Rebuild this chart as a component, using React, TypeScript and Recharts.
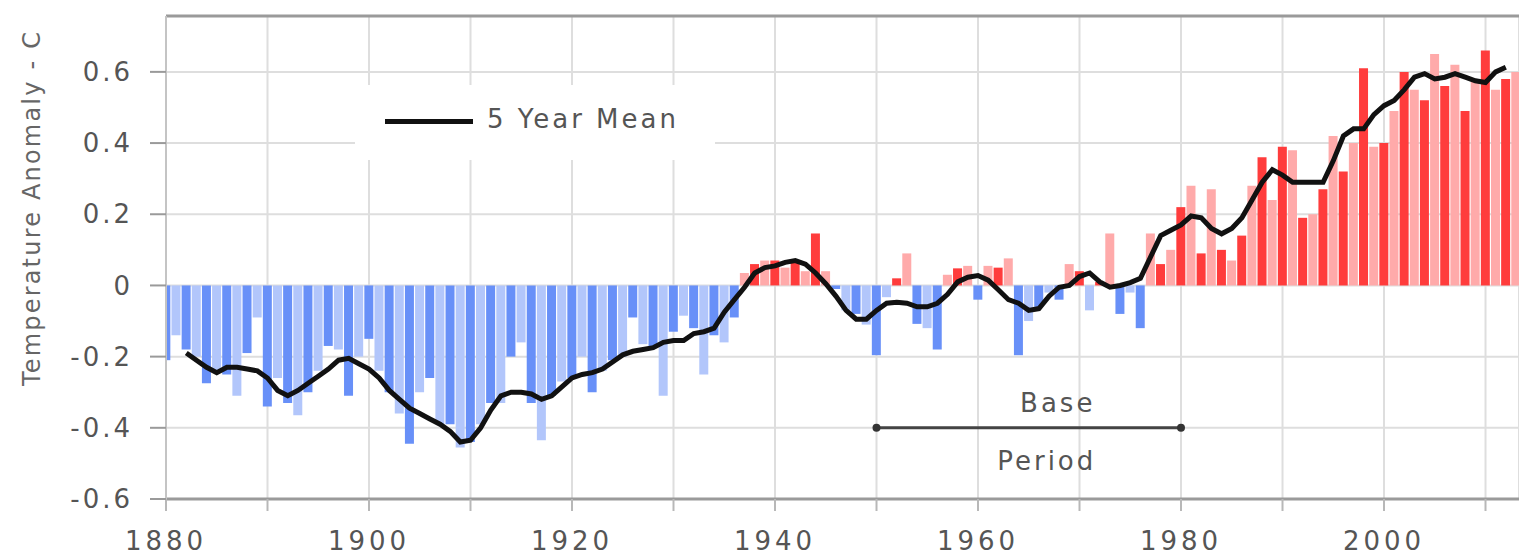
import {
  ComposedChart,
  Bar,
  Line,
  XAxis,
  YAxis,
  CartesianGrid,
  ReferenceLine,
  ReferenceDot,
  Legend,
  Cell,
} from 'recharts';

const START_YEAR = 1880;

// annual anomaly, deg C, 1880..2013
const anomaly = [
  -0.21, -0.14, -0.18, -0.2, -0.275, -0.24, -0.25, -0.31, -0.19, -0.09,
  -0.34, -0.26, -0.33, -0.365, -0.3, -0.24, -0.17, -0.18, -0.31, -0.2,
  -0.15, -0.24, -0.3, -0.36, -0.445, -0.3, -0.26, -0.39, -0.39, -0.455,
  -0.44, -0.39, -0.33, -0.33, -0.2, -0.16, -0.33, -0.435, -0.31, -0.27,
  -0.26, -0.2, -0.3, -0.24, -0.21, -0.2, -0.09, -0.165, -0.17, -0.31,
  -0.13, -0.085, -0.12, -0.25, -0.14, -0.16, -0.09, 0.035, 0.06, 0.07,
  0.07, 0.05, 0.07, 0.04, 0.146, 0.04, -0.01, -0.07, -0.08, -0.11,
  -0.196, -0.033, 0.02, 0.09, -0.108, -0.12, -0.18, 0.03, 0.048, 0.055,
  -0.04, 0.055, 0.05, 0.076, -0.196, -0.1, -0.06, -0.02, -0.04, 0.06,
  0.04, -0.07, 0.01, 0.146, -0.08, -0.02, -0.12, 0.146, 0.06, 0.1,
  0.22, 0.28, 0.09, 0.27, 0.1, 0.07, 0.14, 0.28, 0.36, 0.24,
  0.39, 0.38, 0.19, 0.2, 0.27, 0.42, 0.32, 0.4, 0.61, 0.39,
  0.4, 0.49, 0.6, 0.55, 0.52, 0.65, 0.56, 0.62, 0.49, 0.58,
  0.66, 0.55, 0.58, 0.6,
];

// 5 year mean, 1880..2013 (null where not drawn)
const fiveYearMean = [
  null, null,
  -0.19, -0.21, -0.23, -0.245, -0.23, -0.23, -0.235, -0.24,
  -0.26, -0.295, -0.31, -0.295, -0.275, -0.255, -0.235, -0.21, -0.205, -0.22,
  -0.235, -0.26, -0.295, -0.32, -0.345, -0.36, -0.375, -0.39, -0.41, -0.44,
  -0.435, -0.4, -0.35, -0.31, -0.3, -0.3, -0.305, -0.32, -0.31, -0.285,
  -0.26, -0.25, -0.245, -0.235, -0.215, -0.195, -0.185, -0.18, -0.175, -0.16,
  -0.155, -0.155, -0.135, -0.13, -0.12, -0.075, -0.04, -0.005, 0.035, 0.05,
  0.055, 0.065, 0.07, 0.06, 0.035, 0.005, -0.03, -0.07, -0.095, -0.095,
  -0.07, -0.05, -0.047, -0.05, -0.06, -0.06, -0.05, -0.025, 0.01, 0.023,
  0.028, 0.015, -0.012, -0.04, -0.05, -0.07, -0.065, -0.03, -0.005, 0.0,
  0.025, 0.035, 0.01, -0.005, 0.0, 0.008, 0.02, 0.08, 0.14, 0.155,
  0.17, 0.195, 0.19, 0.16, 0.145, 0.16, 0.19, 0.24, 0.29, 0.325,
  0.31, 0.29, 0.29, 0.29, 0.29, 0.35, 0.42, 0.44, 0.44, 0.48,
  0.505, 0.52, 0.55, 0.585, 0.595, 0.58, 0.585, 0.595, 0.585, 0.575,
  0.57, 0.6, 0.613,
  null,
];

const xTicks = [1880, 1890, 1900, 1910, 1920, 1930, 1940, 1950, 1960, 1970, 1980, 1990, 2000, 2010];
const yTicks = [-0.6, -0.4, -0.2, 0, 0.2, 0.4, 0.6];
const basePeriod = [1950, 1980];
const baseLevel = -0.4;

const Y_TOP = 0.757;
const X_END = 2013.3;

const data = anomaly.map((v, i) => ({
  year: START_YEAR + i,
  anomaly: v,
  mean: fiveYearMean[i],
}));

const barColor = (v: number, i: number) => {
  if (v >= 0) return i % 2 === 0 ? '#ff3c3c' : '#ffaaaa';
  return i % 2 === 0 ? '#6890f8' : '#b2c6fb';
};

const textStyle = { fill: '#555', fontSize: 26, letterSpacing: 3 };

const LegendBox = () => (
  <div
    style={{
      width: 360,
      height: 75,
      background: '#fff',
      position: 'relative',
      fontFamily: '"DejaVu Sans", sans-serif',
    }}
  >
    <div style={{ position: 'absolute', left: 30, top: 34, width: 88, height: 5, background: '#111' }} />
    <div
      style={{
        position: 'absolute',
        left: 132,
        top: 19,
        fontSize: 26,
        letterSpacing: 3,
        color: '#555',
        whiteSpace: 'nowrap',
      }}
    >
      5 Year Mean
    </div>
  </div>
);

const BaseLabel = (props: any) => {
  const vb = props.viewBox || {};
  const x1 = vb.x1 ?? vb.x;
  const x2 = vb.x2 ?? vb.x + vb.width;
  const y = vb.y1 ?? vb.y;
  const cx = (x1 + x2) / 2;
  return (
    <g>
      <text x={cx + 29} y={y - 16} textAnchor="middle" {...textStyle}>
        Base
      </text>
      <text x={cx + 18} y={y + 42} textAnchor="middle" {...textStyle}>
        Period
      </text>
    </g>
  );
};

const YTitle = () => (
  <text
    x={40}
    y={208}
    transform="rotate(-90 40 208)"
    textAnchor="middle"
    fill="#666"
    fontSize={24}
    letterSpacing={2.2}
  >
    Temperature Anomaly - C
  </text>
);

export default function App() {
  return (
    <div style={{ width: 1519, height: 558, fontFamily: '"DejaVu Sans", sans-serif', background: '#fff' }}>
      <style>{'body{margin:0}'}</style>
      <ComposedChart
        width={1519}
        height={558}
        data={data}
        margin={{ top: 16, right: 0, left: 0, bottom: 0 }}
        barCategoryGap="4%"
      >
        <CartesianGrid stroke="#dedede" strokeWidth={2} />
        <XAxis
          dataKey="year"
          type="number"
          domain={[START_YEAR, X_END]}
          allowDataOverflow
          ticks={xTicks}
          interval={0}
          tickFormatter={(v: number) => (v % 20 === 0 ? String(v) : '')}
          height={59}
          stroke="#9a9a9a"
          strokeWidth={3}
          tickLine={{ stroke: '#b8b8b8', strokeWidth: 2 }}
          tickSize={12}
          tickMargin={21}
          tick={{ fill: '#555', fontSize: 26, letterSpacing: 4 }}
        />
        <YAxis
          type="number"
          domain={[-0.6, Y_TOP]}
          allowDataOverflow
          ticks={yTicks}
          interval={0}
          width={166}
          tickFormatter={(v: number) => (v === 0 ? '0' : v.toFixed(1))}
          stroke="#c4c4c4"
          strokeWidth={2}
          tickLine={{ stroke: '#9a9a9a', strokeWidth: 2 }}
          tickSize={16}
          tickMargin={17}
          tick={textStyle}
          label={{ content: () => <YTitle /> }}
        />
        <ReferenceLine y={Y_TOP} stroke="#9a9a9a" strokeWidth={3} />
        <Bar dataKey="anomaly" isAnimationActive={false}>
          {data.map((d, i) => (
            <Cell key={d.year} fill={barColor(d.anomaly, i)} />
          ))}
        </Bar>
        <Line
          dataKey="mean"
          type="linear"
          stroke="#111"
          strokeWidth={5}
          dot={false}
          isAnimationActive={false}
        />
        <ReferenceLine
          segment={[
            { x: basePeriod[0], y: baseLevel },
            { x: basePeriod[1], y: baseLevel },
          ]}
          stroke="#444"
          strokeWidth={3}
          label={{ content: (p: any) => <BaseLabel {...p} /> }}
        />
        <ReferenceDot x={basePeriod[0]} y={baseLevel} r={4} fill="#333" stroke="none" />
        <ReferenceDot x={basePeriod[1]} y={baseLevel} r={4} fill="#333" stroke="none" />
        <Legend
          layout="horizontal"
          align="center"
          verticalAlign="middle"
          wrapperStyle={{ position: 'absolute', left: 355, top: 85, width: 360, height: 75 }}
          content={() => <LegendBox />}
        />
      </ComposedChart>
    </div>
  );
}
